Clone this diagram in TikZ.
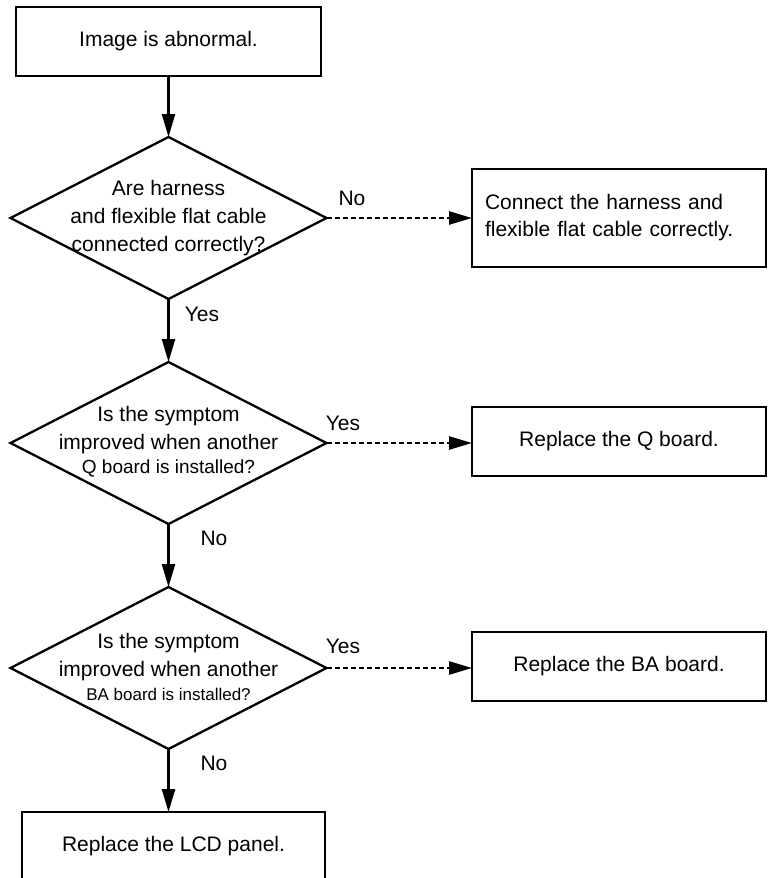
\documentclass[tikz,border=0pt]{standalone}
\usepackage{fontspec}
\setmainfont{Liberation Sans}
\usetikzlibrary{shapes.geometric,arrows.meta}
\begin{document}
\begin{tikzpicture}[x=1pt,y=-1pt,
  boxnode/.style={draw, line width=2.9pt, rectangle, inner sep=0pt, outer sep=0pt, align=center, font=\fontsize{21}{27}\selectfont},
  dia/.style={draw, diamond, line width=2.3pt, inner sep=0pt, outer sep=0pt, minimum width=316pt, minimum height=162pt},
  txt/.style={align=center, inner sep=0pt, font=\fontsize{21}{28}\selectfont},
  lbl/.style={inner sep=0pt, font=\fontsize{21}{25}\selectfont},
  flow/.style={line width=2.3pt, -{Triangle[length=23pt,width=13pt]}},
  dflow/.style={flow, line width=2.6pt, dash pattern=on 5pt off 3pt}]
\useasboundingbox (0,0) rectangle (768,878);
\clip (0,0) rectangle (768,878);

% left column
\node[boxnode, minimum width=305pt, minimum height=69pt] (b1) at (168.5,41.5) {Image is abnormal.};
\node[dia] (d1) at (168.5,218) {};
\node[txt] (d1t) at (168.5,218) {Are harness\\and flexible flat cable\\connected correctly?};
\node[dia] (d2) at (168.5,443) {};
\node[txt] (d2t) at (168.5,442) {Is the symptom\\improved when another\\[-4pt]{\fontsize{19}{24}\selectfont Q board is installed?}};
\node[dia] (d3) at (168.5,668) {};
\node[txt] (d3t) at (168.5,667) {Is the symptom\\improved when another\\[-4pt]{\fontsize{17}{22}\selectfont BA board is installed?}};
\node[boxnode, minimum width=303pt, minimum height=69pt] (lcd) at (173.5,846.5) {Replace the LCD panel.};

% right column
\node[boxnode, text width=268pt, inner xsep=13pt, minimum height=98pt, align=left] (b2) at (619,218) {Connect the harness and\\flexible flat cable correctly.};
\node[boxnode, minimum width=294pt, minimum height=69pt] (q) at (619,441.5) {Replace the Q board.};
\node[boxnode, minimum width=294pt, minimum height=69pt] (ba) at (619,666.5) {Replace the BA board.};

% connectors
\draw[flow] (b1.south) -- (d1.north);
\draw[flow] (d1.south) -- (d2.north);
\draw[flow] (d2.south) -- (d3.north);
\draw[flow] (d3.south) -- (d3.south |- lcd.north);
\draw[dflow] (d1.east) -- (b2.west);
\draw[dflow] (d2.east) -- (d2.east -| q.west);
\draw[dflow] (d3.east) -- (d3.east -| ba.west);

% labels
\node[lbl] (l1) at (352,198) {No};
\node[lbl] (l2) at (202,314) {Yes};
\node[lbl] (l3) at (343,423) {Yes};
\node[lbl] (l4) at (214,538) {No};
\node[lbl] (l5) at (343,646) {Yes};
\node[lbl] (l6) at (214,763) {No};
\end{tikzpicture}
\end{document}
